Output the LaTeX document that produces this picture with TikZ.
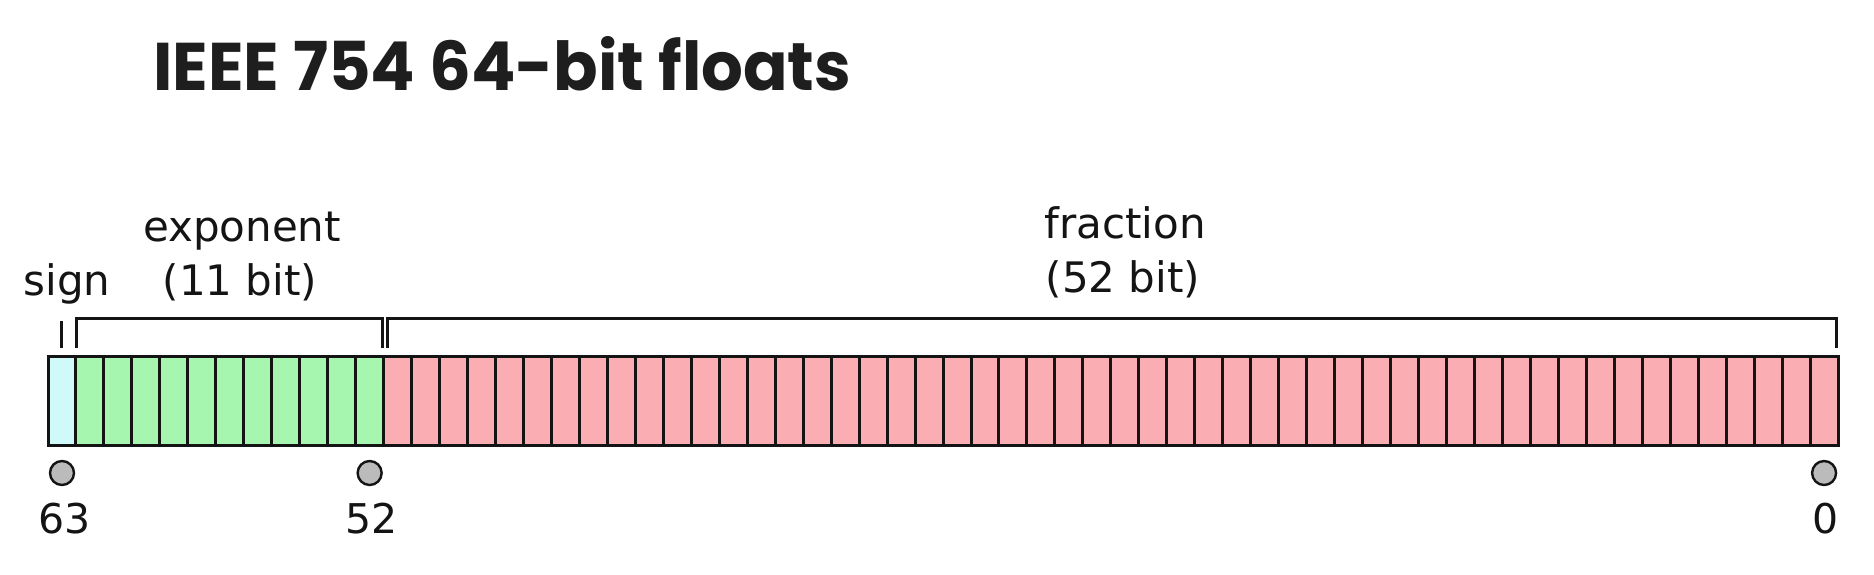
\documentclass[tikz,border=0pt]{standalone}
\usepackage{fontspec}
\usepackage{graphicx}
\newfontfamily\labfont{DejaVu Sans}
\newfontfamily\titlefont{Poppins}
\definecolor{signc}{RGB}{208,250,250}
\definecolor{expc}{RGB}{166,246,176}
\definecolor{fracc}{RGB}{250,174,180}
\definecolor{inkc}{RGB}{20,20,20}
\definecolor{dotc}{RGB}{187,187,187}
\definecolor{titlec}{RGB}{30,30,30}
\tikzset{
  cell/.style={draw=inkc, line width=3pt, minimum width=27.97pt, minimum height=89pt, inner sep=0pt, outer sep=0pt},
  brk/.style={draw=inkc, line width=3pt},
  dot/.style={circle, draw=inkc, line width=2.4pt, fill=dotc, minimum size=24pt, inner sep=0pt},
  lab/.style={font=\labfont\fontsize{42}{54}\selectfont, inner sep=0pt, anchor=base, text=inkc},
  num/.style={font=\labfont\fontsize{41}{50}\selectfont, inner sep=0pt, anchor=base, text=inkc}
}
\begin{document}
\begin{tikzpicture}[x=1pt, y=-1pt]
\useasboundingbox[fill=white] (0,0) rectangle (1874,574);
% title
\node[anchor=base west, inner sep=0pt, text=titlec] (title) at (153,90)
  {\resizebox{698pt}{54pt}{\titlefont\bfseries IEEE 754 64-bit floats}};
% cells
\foreach \i in {0,...,63}{
  \ifnum\i=0 \def\cc{signc}\else\ifnum\i<12 \def\cc{expc}\else\def\cc{fracc}\fi\fi
  \node[cell, fill=\cc] (c\i) at ({48+(\i+0.5)*27.97}, 400.5) {};
}
% brackets
\draw[brk] ([yshift=8pt]c0.north) -- ([yshift=35pt]c0.north);
\draw[brk] ([xshift=1pt,yshift=8pt]c1.north west) |- ([xshift=-1.5pt,yshift=38pt]c11.north east) -- ([xshift=-1.5pt,yshift=8pt]c11.north east);
\draw[brk] ([xshift=4.3pt,yshift=8pt]c12.north west) |- ([xshift=-2pt,yshift=38pt]c63.north east) -- ([xshift=-2pt,yshift=8pt]c63.north east);
% labels
\node[lab] (sign) at (67,295) {sign};
\node[lab] (exp1) at (242,241) {exponent};
\node[lab] (exp2) at (240,295) {(11 bit)};
\node[lab] (frac1) at (1125,238) {fraction};
\node[lab] (frac2) at (1123,292) {(52 bit)};
% bit markers
\node[dot] (d63) at ([yshift=-28pt]c0.south) {};
\node[dot] (d52) at ([yshift=-28pt]c11.south) {};
\node[dot] (d0) at ([yshift=-28pt]c63.south) {};
\node[num] (n63) at (65,533) {63};
\node[num] (n52) at (372,533) {52};
\node[num] (n0) at (1826,533) {0};
\end{tikzpicture}
\end{document}
